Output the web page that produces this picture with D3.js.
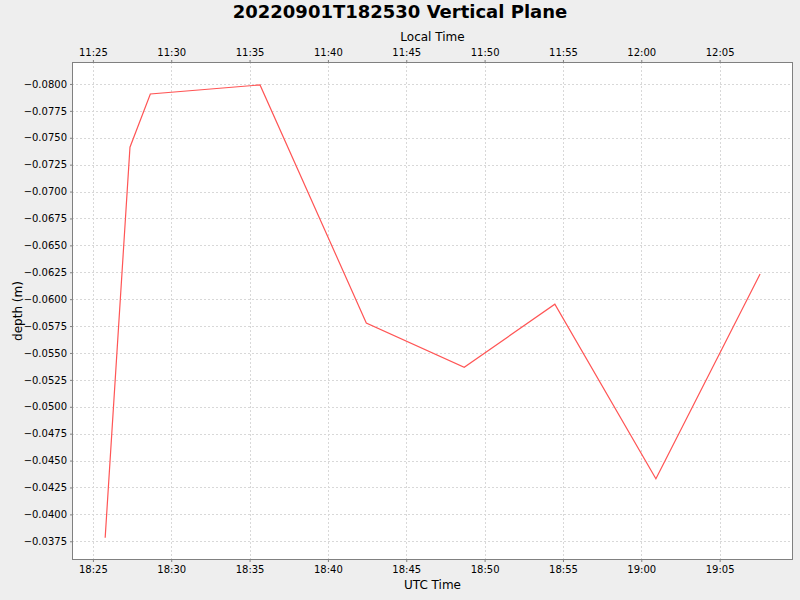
<!DOCTYPE html>
<html>
<head>
<meta charset="utf-8">
<script src="https://cdn.jsdelivr.net/npm/d3@7"></script>
<style>
  body { margin: 0; background: #eeeeee; }
  svg { display: block; font-family: "DejaVu Sans", sans-serif; }
  .tick text { font-size: 10px; fill: #000; }
  .grid line { stroke: #d8d8d8; stroke-dasharray: 2,2; }
</style>
</head>
<body>
<div id="chart"></div>
<script>
// chart data (UTC sample times and depth in metres)
var utcTimes = ["18:25:47", "18:27:22", "18:28:40", "18:35:40", "18:42:27",
                "18:48:42", "18:54:29", "19:00:56", "19:07:35"];
var depths = [-0.03783, -0.07412, -0.07907, -0.07991, -0.05779,
              -0.05367, -0.05953, -0.04330, -0.06234];
var depthTicks = [-0.0800, -0.0775, -0.0750, -0.0725, -0.0700, -0.0675, -0.0650,
                  -0.0625, -0.0600, -0.0575, -0.0550, -0.0525, -0.0500, -0.0475,
                  -0.0450, -0.0425, -0.0400, -0.0375];
var titleText = "20220901T182530 Vertical Plane";
var localOffsetHours = -7;

var svgWidth = 800;
var svgHeight = 600;
var margin = {top: 62, right: 7, bottom: 40, left: 72};
var width = svgWidth - margin.left - margin.right;
var height = svgHeight - margin.top - margin.bottom;

var svg = d3.select("#chart")
  .append("svg")
  .attr("width", svgWidth)
  .attr("height", svgHeight);

svg.append("rect")
  .attr("width", svgWidth)
  .attr("height", svgHeight)
  .attr("fill", "#eeeeee");

var parseUtc = d3.utcParse("%Y-%m-%d %H:%M:%S");
var data = utcTimes.map(function(t, i) {
  return {time: parseUtc("2022-09-01 " + t), depth: depths[i]};
});

// scales
var xScale = d3.scaleUtc()
  .domain([parseUtc("2022-09-01 18:23:40"), parseUtc("2022-09-01 19:09:41")])
  .range([0, width]);

var shift = localOffsetHours * 3600 * 1000;
var xLocal = d3.scaleUtc()
  .domain(xScale.domain().map(function(d) { return new Date(+d + shift); }))
  .range([0, width]);

// inverted depth axis: more negative at the top
var yScale = d3.scaleLinear()
  .domain([-0.03576, -0.08204])
  .range([height, 0]);

var chartGroup = svg.append("g")
  .attr("transform", "translate(" + margin.left + "," + margin.top + ")");

chartGroup.append("rect")
  .attr("width", width)
  .attr("height", height)
  .attr("fill", "#ffffff");

// grid lines
var minuteTicks = d3.utcMinute.every(5);
chartGroup.append("g")
  .attr("class", "grid")
  .selectAll("line")
  .data(xScale.ticks(minuteTicks))
  .enter()
  .append("line")
  .attr("x1", d => Math.round(xScale(d)) + 0.5)
  .attr("x2", d => Math.round(xScale(d)) + 0.5)
  .attr("y1", 0)
  .attr("y2", height);

chartGroup.append("g")
  .attr("class", "grid")
  .selectAll("line")
  .data(depthTicks)
  .enter()
  .append("line")
  .attr("y1", d => Math.round(yScale(d)) + 0.5)
  .attr("y2", d => Math.round(yScale(d)) + 0.5)
  .attr("x1", 0)
  .attr("x2", width);

// axes
var bottomAxis = d3.axisBottom(xScale)
  .ticks(minuteTicks)
  .tickFormat(d3.utcFormat("%H:%M"))
  .tickSizeOuter(0)
  .tickSize(2)
  .tickPadding(4);

var topAxis = d3.axisTop(xLocal)
  .ticks(minuteTicks)
  .tickFormat(d3.utcFormat("%H:%M"))
  .tickSizeOuter(0)
  .tickSize(2)
  .tickPadding(4);

var leftAxis = d3.axisLeft(yScale)
  .tickValues(depthTicks)
  .tickFormat(d3.format(".4f"))
  .tickSizeOuter(0)
  .tickSize(2)
  .tickPadding(3);

var gb = chartGroup.append("g")
  .attr("transform", "translate(0," + height + ")")
  .call(bottomAxis);

var gt = chartGroup.append("g")
  .call(topAxis);

var gl = chartGroup.append("g")
  .call(leftAxis);

[gb, gt, gl].forEach(function(g) {
  g.select(".domain").remove();
  g.selectAll(".tick line").attr("stroke", "#808080");
  g.selectAll("text").attr("font-family", "DejaVu Sans, sans-serif");
});

// plot outline
chartGroup.append("rect")
  .attr("x", 0.5)
  .attr("y", 0.5)
  .attr("width", width - 1)
  .attr("height", height - 1)
  .attr("fill", "none")
  .attr("stroke", "#808080");

// the series line
var line = d3.line()
  .x(d => xScale(d.time))
  .y(d => yScale(d.depth));

chartGroup.append("path")
  .datum(data)
  .attr("d", line)
  .attr("fill", "none")
  .attr("stroke", "#ff5555")
  .attr("stroke-width", 1.2);

// titles and axis labels
svg.append("text")
  .attr("x", svgWidth / 2)
  .attr("y", 18)
  .attr("text-anchor", "middle")
  .attr("font-size", "18px")
  .attr("font-weight", "bold")
  .text(titleText);

svg.append("text")
  .attr("x", margin.left + width / 2)
  .attr("y", 41)
  .attr("text-anchor", "middle")
  .attr("font-size", "12px")
  .text("Local Time");

svg.append("text")
  .attr("x", margin.left + width / 2)
  .attr("y", 589)
  .attr("text-anchor", "middle")
  .attr("font-size", "12px")
  .text("UTC Time");

svg.append("text")
  .attr("transform", "rotate(-90)")
  .attr("x", -(margin.top + height / 2))
  .attr("y", 22)
  .attr("text-anchor", "middle")
  .attr("font-size", "12px")
  .text("depth (m)");
</script>
</body>
</html>
